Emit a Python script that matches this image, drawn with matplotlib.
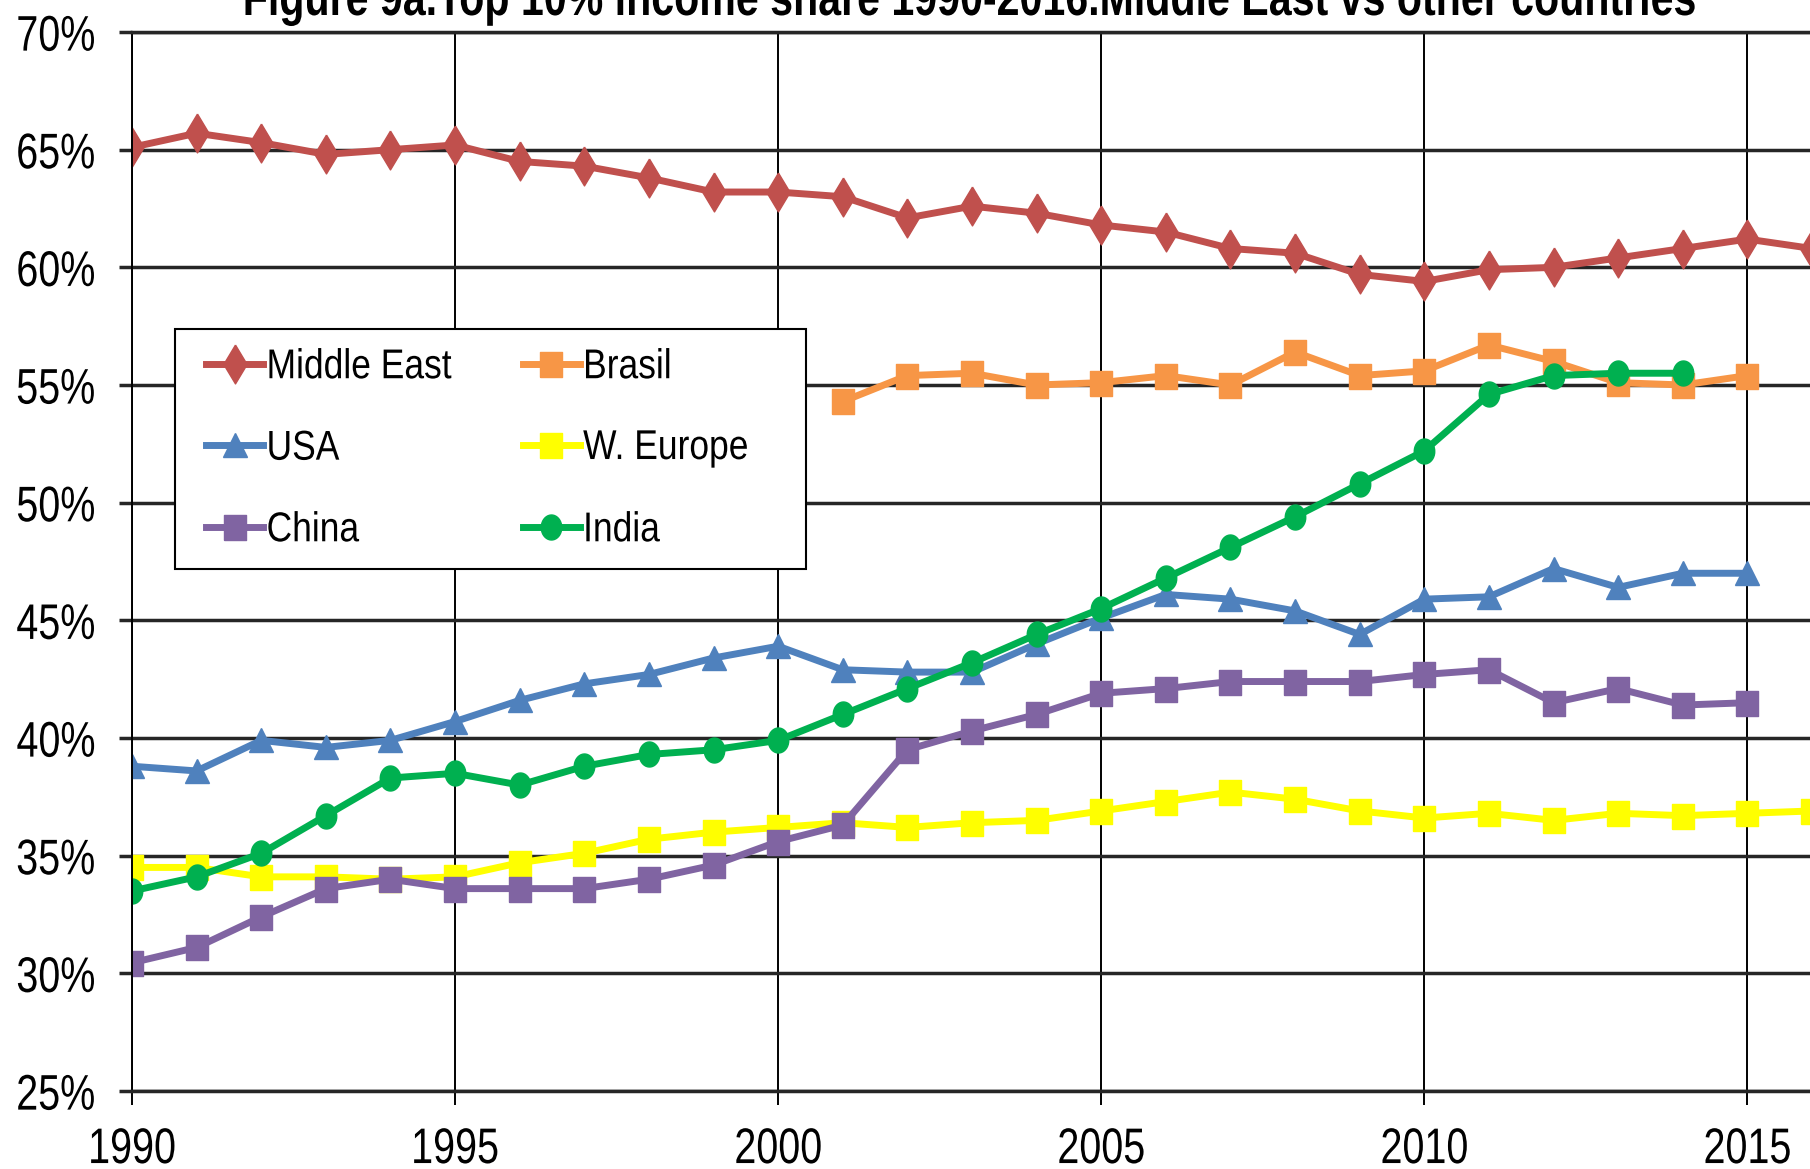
import numpy as np
import matplotlib
matplotlib.use('Agg')
import matplotlib.pyplot as plt
from matplotlib.patheffects import AbstractPathEffect
from matplotlib.transforms import Affine2D
from matplotlib.patches import Rectangle

plt.rcParams['font.family'] = ['Liberation Sans', 'DejaVu Sans']

years = list(range(1990, 2017))
nan = np.nan

middle_east = [65.1, 65.7, 65.3, 64.8, 65.0, 65.2, 64.5, 64.3, 63.8, 63.2, 63.2, 63.0, 62.1,
               62.6, 62.3, 61.8, 61.5, 60.8, 60.6, 59.7, 59.4, 59.9, 60.0, 60.4, 60.8, 61.2, 60.8]
brasil = [nan] * 11 + [54.3, 55.4, 55.5, 55.0, 55.1, 55.4, 55.0, 56.4, 55.4, 55.6, 56.7,
                       56.0, 55.1, 55.0, 55.4, nan]
usa = [38.8, 38.6, 39.9, 39.6, 39.9, 40.7, 41.6, 42.3, 42.7, 43.4, 43.9, 42.9, 42.8,
       42.8, 44.0, 45.1, 46.1, 45.9, 45.4, 44.4, 45.9, 46.0, 47.2, 46.4, 47.0, 47.0, nan]
w_europe = [34.5, 34.5, 34.1, 34.1, 34.0, 34.1, 34.7, 35.1, 35.7, 36.0, 36.2, 36.4, 36.2,
            36.4, 36.5, 36.9, 37.3, 37.7, 37.4, 36.9, 36.6, 36.8, 36.5, 36.8, 36.7, 36.8, 36.9]
china = [30.45, 31.1, 32.4, 33.6, 34.0, 33.6, 33.6, 33.6, 34.0, 34.6, 35.6, 36.3, 39.5,
         40.3, 41.0, 41.9, 42.1, 42.4, 42.4, 42.4, 42.7, 42.9, 41.5, 42.1, 41.4, 41.5, nan]
india = [33.5, 34.1, 35.1, 36.7, 38.3, 38.5, 38.0, 38.8, 39.3, 39.5, 39.9, 41.0, 42.1,
         43.2, 44.4, 45.5, 46.8, 48.1, 49.4, 50.8, 52.2, 54.6, 55.4, 55.5, 55.5, nan, nan]


# 没有窄体字体：用小一号的字再纵向拉高，看起来像 Arial Narrow（仍是文本对象）
class Stretch(AbstractPathEffect):
    def __init__(self, sy, yanchor='center'):
        super().__init__()
        self.sy = sy
        self.yanchor = yanchor

    def draw_path(self, renderer, gc, tpath, affine, rgbFace=None):
        ext = tpath.get_extents(affine)
        if self.yanchor == 'top':
            cy = ext.y1
        elif self.yanchor == 'baseline':
            cy = affine.transform((0, 0))[1]
        else:
            cy = (ext.y0 + ext.y1) / 2
        affine = affine + Affine2D().translate(0, -cy).scale(1, self.sy).translate(0, cy)
        renderer.draw_path(gc, tpath, affine, rgbFace)


# 自定义标记（略窄）
diamond = [(0, 1), (0.6, 0), (0, -1), (-0.6, 0), (0, 1)]
square = [(-0.9, -1), (0.9, -1), (0.9, 1), (-0.9, 1), (-0.9, -1)]
t = np.linspace(0, 2 * np.pi, 40)
ellipse = list(zip(0.82 * np.cos(t), np.sin(t)))

fig = plt.figure(figsize=(18.1, 11.69), dpi=100)
W, H = 1810, 1169
x0, x1, ytop, ybot = 132, 1812, 32, 1091
ax = fig.add_axes([x0 / W, 1 - ybot / H, (x1 - x0) / W, (ybot - ytop) / H])

lw = 5
l_me, = ax.plot(years, middle_east, color='#C0504D', lw=lw, marker=diamond, ms=28, label='Middle East')
l_br, = ax.plot(years, brasil, color='#F79646', lw=lw, marker=square, ms=18, label='Brasil')
l_us, = ax.plot(years, usa, color='#4F81BD', lw=lw, marker='^', ms=17, label='USA')
l_we, = ax.plot(years, w_europe, color='#FFFF00', lw=lw, marker=square, ms=18, label='W. Europe')
l_cn, = ax.plot(years, china, color='#8064A2', lw=lw, marker=square, ms=18, label='China')
l_in, = ax.plot(years, india, color='#00B050', lw=lw, marker=ellipse, ms=18, label='India')

ax.set_xlim(1990, 2016)
ax.set_ylim(25, 70)
ax.set_xticks(range(1990, 2016, 5))
ax.set_yticks(range(25, 71, 5))
ax.set_yticklabels([f'{v}%' for v in range(25, 71, 5)])

ax.set_axisbelow(True)
ax.grid(axis='y', color='#262626', lw=2.5)
ax.grid(axis='x', color='black', lw=1.4)
ax.spines['right'].set_visible(False)
ax.spines['left'].set_color('black')
ax.spines['left'].set_linewidth(1.4)
for s in ['top', 'bottom']:
    ax.spines[s].set_color('#262626')
    ax.spines[s].set_linewidth(2.5)

k = 0.79  # 窄体比例
ax.tick_params(axis='y', length=9.4, width=2.5, color='#262626', pad=17, labelsize=36 * k)
ax.tick_params(axis='x', length=10, width=1.4, color='black', pad=15, labelsize=36 * k)
for lbl in ax.get_yticklabels():
    lbl.set_path_effects([Stretch(1 / k, 'center')])
for lbl in ax.get_xticklabels():
    lbl.set_path_effects([Stretch(1 / k, 'top')])

# 图例：外框单独画
fig_tr = fig.transFigure
ax.add_patch(Rectangle((175 / W, 1 - 569 / H), (806 - 175) / W, (569 - 329) / H,
                       transform=fig_tr, facecolor='white', edgecolor='black', lw=1.5,
                       zorder=4.9, clip_on=False))
kl = 0.85
handles = [l_me, l_us, l_cn, l_br, l_we, l_in]
leg = fig.legend(handles=handles, ncol=2, loc='upper left',
                 bbox_to_anchor=(206 / W, 1 - 350 / H), bbox_transform=fig_tr,
                 borderaxespad=0, borderpad=0, fontsize=30 * kl, handlelength=1.61,
                 handletextpad=0.1, columnspacing=2.0, labelspacing=1.37, frameon=False)
leg.set_zorder(5)
for txt in leg.get_texts():
    txt.set_path_effects([Stretch(1 / kl, 'center')])

fig.text(968 / W, 1 - 15 / H, 'Figure 9a.Top 10% income share 1990-2016.Middle East vs other countries',
         ha='center', va='baseline', fontsize=37.5 * k, fontweight='bold',
         path_effects=[Stretch(1 / k, 'baseline')])

fig.savefig('out.png', dpi=100)
